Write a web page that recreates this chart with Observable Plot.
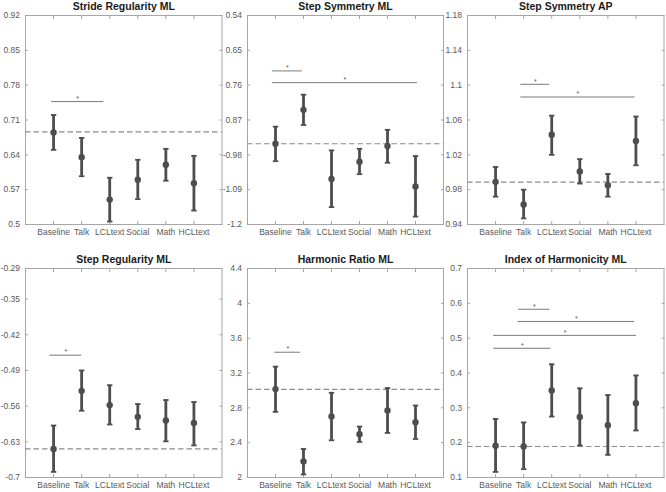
<!DOCTYPE html>
<html><head><meta charset="utf-8">
<script src="https://cdn.jsdelivr.net/npm/d3@7"></script>
<script src="https://cdn.jsdelivr.net/npm/@observablehq/plot@0.6"></script>
<style>
body{margin:0;background:#fff;}
#chart{position:relative;width:666px;height:492px;background:#fff;overflow:hidden;}
#chart svg{position:absolute;background:transparent;overflow:visible;max-width:none;}
</style></head><body><div id="chart"></div>
<script>
// ---------- data ----------
const categories = ["Baseline","Talk","LCLtext","Social","Math","HCLtext"];
const xTickPositions = [1,2,3,4,5,6];

const strideRegML_title = "Stride Regularity ML";
const strideRegML_mean = [0.685, 0.635, 0.550, 0.590, 0.620, 0.583];
const strideRegML_lo   = [0.650, 0.597, 0.506, 0.551, 0.588, 0.528];
const strideRegML_hi   = [0.720, 0.674, 0.594, 0.630, 0.652, 0.638];
const strideRegML_ref  = 0.686;
const strideRegML_sig  = [[0.93, 2.79, 0.747]];
const strideRegML_yTicks = [0.5, 0.57, 0.64, 0.71, 0.78, 0.85, 0.92];
const strideRegML_yLabels = ["0.5","0.57","0.64","0.71","0.78","0.85","0.92"];

const stepSymML_title = "Step Symmetry ML";
const stepSymML_mean = [-0.945, -0.838, -1.056, -1.002, -0.952, -1.080];
const stepSymML_lo   = [-1.000, -0.886, -1.145, -1.041, -1.005, -1.175];
const stepSymML_hi   = [-0.891, -0.790, -0.966, -0.961, -0.901, -0.984];
const stepSymML_ref  = -0.945;
const stepSymML_sig  = [[0.89, 1.96, -0.715], [0.89, 6.07, -0.752]];
const stepSymML_yTicks = [-1.2, -1.09, -0.98, -0.87, -0.76, -0.65, -0.54];
const stepSymML_yLabels = ["-1.2","-1.09","-0.98","0.87","0.76","0.65","0.54"];

const stepSymAP_title = "Step Symmetry AP";
const stepSymAP_mean = [0.989, 0.963, 1.043, 1.001, 0.985, 1.036];
const stepSymAP_lo   = [0.972, 0.947, 1.020, 0.987, 0.972, 1.008];
const stepSymAP_hi   = [1.006, 0.980, 1.065, 1.015, 0.998, 1.064];
const stepSymAP_ref  = 0.9886;
const stepSymAP_sig  = [[1.90, 2.93, 1.101], [1.90, 5.97, 1.0864]];
const stepSymAP_yTicks = [0.94, 0.98, 1.02, 1.06, 1.1, 1.14, 1.18];
const stepSymAP_yLabels = ["0.94","0.98","1.02","1.06","1.1","1.14","1.18"];

const stepRegML_title = "Step Regularity ML";
const stepRegML_mean = [-0.644, -0.530, -0.558, -0.581, -0.588, -0.593];
const stepRegML_lo   = [-0.689, -0.569, -0.596, -0.605, -0.629, -0.637];
const stepRegML_hi   = [-0.598, -0.490, -0.519, -0.556, -0.548, -0.552];
const stepRegML_ref  = -0.644;
const stepRegML_sig  = [[0.87, 2.0, -0.46]];
const stepRegML_yTicks = [-0.7, -0.63, -0.56, -0.49, -0.42, -0.35, -0.29];
const stepRegML_yLabels = ["-0.7","-0.63","-0.56","-0.49","-0.42","-0.35","-0.29"];

const harmRatioML_title = "Harmonic Ratio ML";
const harmRatioML_mean = [3.015, 2.185, 2.700, 2.496, 2.769, 2.635];
const harmRatioML_lo   = [2.754, 2.035, 2.427, 2.408, 2.512, 2.442];
const harmRatioML_hi   = [3.273, 2.327, 2.973, 2.585, 3.027, 2.827];
const harmRatioML_ref  = 3.012;
const harmRatioML_sig  = [[0.975, 1.90, 3.4385]];
const harmRatioML_yTicks = [2, 2.4, 2.8, 3.2, 3.6, 4, 4.4];
const harmRatioML_yLabels = ["2","2.4","2.8","3.2","3.6","4","4.4"];

const harmIdxML_title = "Index of Harmonicity ML";
const harmIdxML_mean = [0.191, 0.189, 0.350, 0.274, 0.250, 0.3135];
const harmIdxML_lo   = [0.116, 0.124, 0.275, 0.192, 0.165, 0.235];
const harmIdxML_hi   = [0.268, 0.258, 0.425, 0.356, 0.3365, 0.393];
const harmIdxML_ref  = 0.189;
const harmIdxML_sig  = [[1.82, 2.94, 0.583], [1.80, 5.96, 0.548], [0.93, 6.02, 0.508], [0.93, 2.98, 0.471]];
const harmIdxML_yTicks = [0.1, 0.2, 0.3, 0.4, 0.5, 0.6, 0.7];
const harmIdxML_yLabels = ["0.1","0.2","0.3","0.4","0.5","0.6","0.7"];

// ---------- build ----------
const panels = [
  {title: strideRegML_title, mean: strideRegML_mean, lo: strideRegML_lo, hi: strideRegML_hi, ref: strideRegML_ref, sig: strideRegML_sig, yTicks: strideRegML_yTicks, yLabels: strideRegML_yLabels},
  {title: stepSymML_title, mean: stepSymML_mean, lo: stepSymML_lo, hi: stepSymML_hi, ref: stepSymML_ref, sig: stepSymML_sig, yTicks: stepSymML_yTicks, yLabels: stepSymML_yLabels},
  {title: stepSymAP_title, mean: stepSymAP_mean, lo: stepSymAP_lo, hi: stepSymAP_hi, ref: stepSymAP_ref, sig: stepSymAP_sig, yTicks: stepSymAP_yTicks, yLabels: stepSymAP_yLabels},
  {title: stepRegML_title, mean: stepRegML_mean, lo: stepRegML_lo, hi: stepRegML_hi, ref: stepRegML_ref, sig: stepRegML_sig, yTicks: stepRegML_yTicks, yLabels: stepRegML_yLabels},
  {title: harmRatioML_title, mean: harmRatioML_mean, lo: harmRatioML_lo, hi: harmRatioML_hi, ref: harmRatioML_ref, sig: harmRatioML_sig, yTicks: harmRatioML_yTicks, yLabels: harmRatioML_yLabels},
  {title: harmIdxML_title, mean: harmIdxML_mean, lo: harmIdxML_lo, hi: harmIdxML_hi, ref: harmIdxML_ref, sig: harmIdxML_sig, yTicks: harmIdxML_yTicks, yLabels: harmIdxML_yLabels}
];

const capSymbol = {
  draw(context, size) {
    const h = Math.sqrt(size / Math.PI);
    context.moveTo(-h, 0);
    context.lineTo(h, 0);
  }
};

const colLeft = [24.5, 247, 466.5], colRight = [221, 443, 663];
const rowTop = [15, 267.5], rowBottom = [224, 476.5];
const mL = 34, mR = 6, mT = 20, mB = 24;
const barColor = "#4d4d4d";
const axisColor = "#a6a6a6";
const chart = document.getElementById("chart");

panels.forEach((p, k) => {
  const c = k % 3, r = Math.floor(k / 3);
  const fw = colRight[c] - colLeft[c], fh = rowBottom[r] - rowTop[r];
  const rows = categories.map((cat, i) => ({x: xTickPositions[i], mean: p.mean[i], lo: p.lo[i], hi: p.hi[i]}));
  const svg = Plot.plot({
    width: fw + mL + mR, height: fh + mT + mB,
    marginLeft: mL, marginRight: mR, marginTop: mT, marginBottom: mB,
    style: {fontFamily: "'Liberation Sans', Arial, sans-serif", fontSize: "8.5px", color: "#595959", background: "transparent", overflow: "visible"},
    x: {domain: [0, 7]},
    y: {domain: [p.yTicks[0], p.yTicks[p.yTicks.length - 1]]},
    marks: [
      Plot.frame({stroke: axisColor}),
      Plot.axisX({ticks: xTickPositions, tickFormat: d => categories[xTickPositions.indexOf(d)], tickSize: -3, tickPadding: 7.5, stroke: axisColor, label: null}),
      Plot.axisX({anchor: "top", ticks: xTickPositions, tickFormat: () => "", tickSize: -3, stroke: axisColor, label: null}),
      Plot.axisY({ticks: p.yTicks, tickFormat: d => p.yLabels[p.yTicks.indexOf(d)], tickSize: -3, tickPadding: 8.5, stroke: axisColor, label: null}),
      Plot.axisY({anchor: "right", ticks: p.yTicks, tickFormat: () => "", tickSize: -3, stroke: axisColor, label: null}),
      Plot.ruleY([p.ref], {stroke: "#8c8c8c", strokeWidth: 1.2, strokeDasharray: "5.5,3"}),
      Plot.ruleY(p.sig, {y: d => d[2], x1: d => d[0], x2: d => d[1], stroke: "#7a7a7a", strokeWidth: 1}),
      Plot.text(p.sig, {x: d => (d[0] + d[1]) / 2, y: d => d[2], text: () => "*", dy: -3, fontSize: 7, fill: "#555"}),
      Plot.ruleX(rows, {x: "x", y1: "lo", y2: "hi", stroke: barColor, strokeWidth: 2.8}),
      Plot.dot(rows, {x: "x", y: "lo", symbol: capSymbol, r: 2.7, fill: "none", stroke: barColor, strokeWidth: 1.8}),
      Plot.dot(rows, {x: "x", y: "hi", symbol: capSymbol, r: 2.7, fill: "none", stroke: barColor, strokeWidth: 1.8}),
      Plot.dot(rows, {x: "x", y: "mean", r: 3.2, fill: barColor, stroke: "none"}),
      Plot.text([p.title], {text: d => d, frameAnchor: "top", dy: -8.5, lineAnchor: "middle", fontWeight: "bold", fontSize: 10.5, fill: "#1a1a1a"})
    ]
  });
  svg.style.left = (colLeft[c] - mL) + "px";
  svg.style.top = (rowTop[r] - mT) + "px";
  chart.appendChild(svg);
});
</script></body></html>
